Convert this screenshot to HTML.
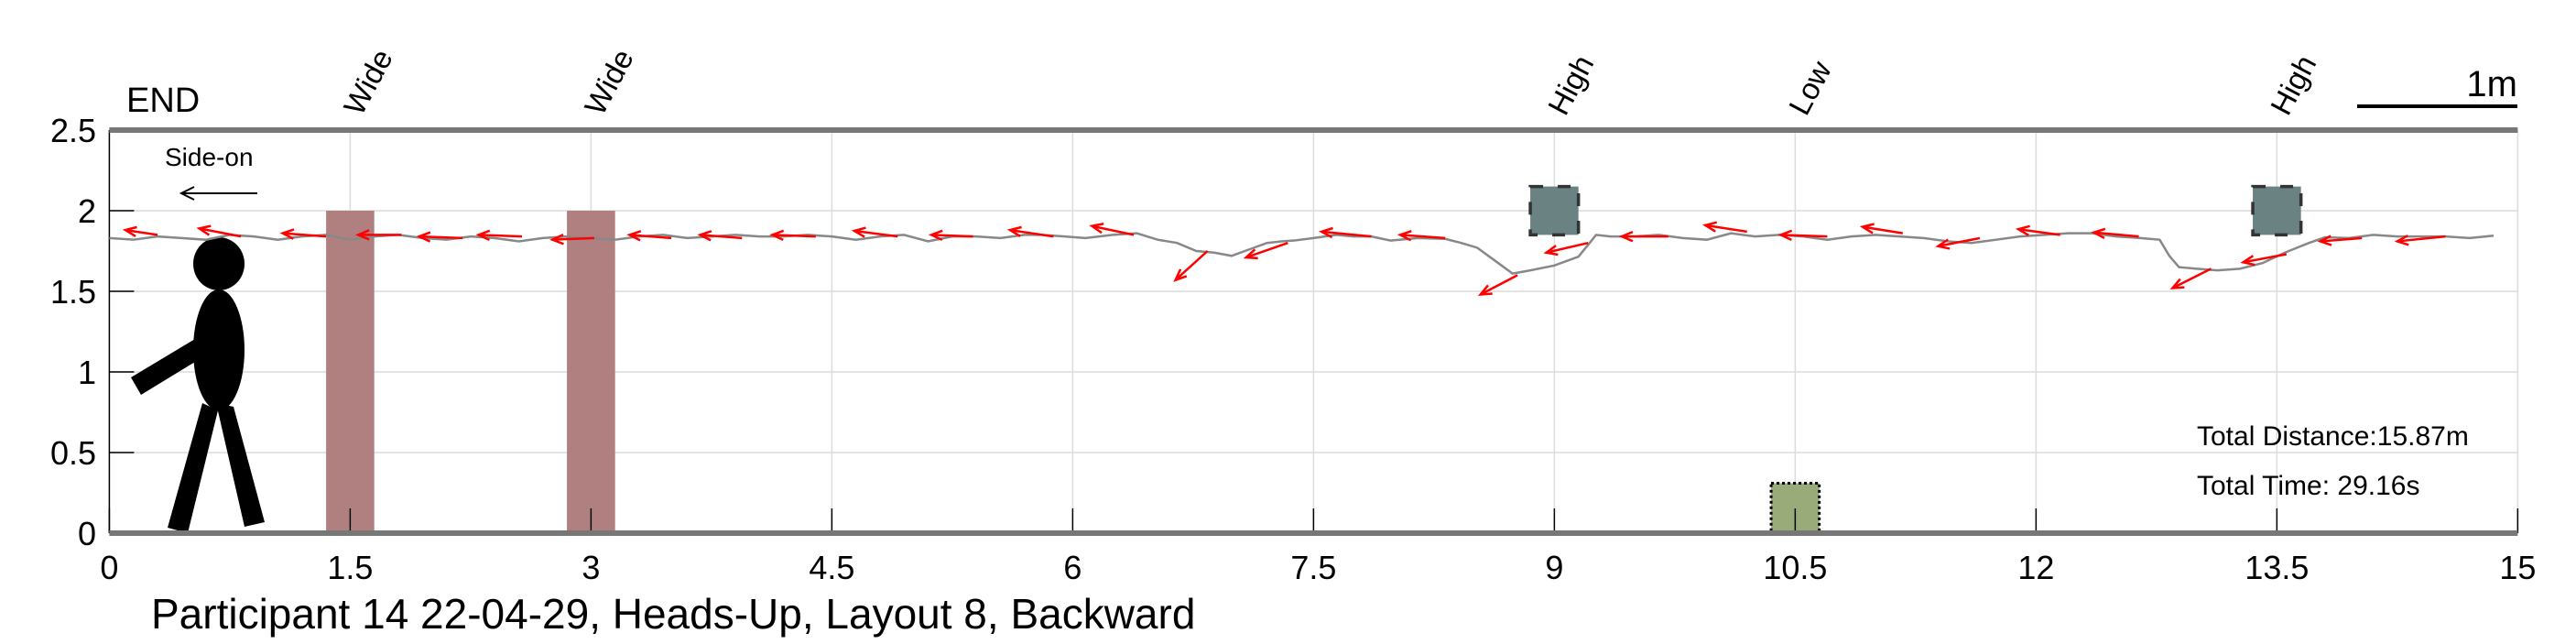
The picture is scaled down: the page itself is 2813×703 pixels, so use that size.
<!DOCTYPE html>
<html><head><meta charset="utf-8">
<style>
html,body{margin:0;padding:0;background:#fff;}
svg{display:block;}
text{font-family:"Liberation Sans Narrow","Liberation Sans",sans-serif;fill:#000;}
</style></head>
<body>
<svg id="chart" width="2813" height="703" viewBox="0 0 2813 703" xmlns="http://www.w3.org/2000/svg">
  <g id="grid"></g>
  <g id="obstacles"></g>
  <g id="person" fill="#000">
    <ellipse cx="239" cy="288" rx="28" ry="29"/>
    <ellipse cx="239" cy="382" rx="28" ry="66"/>
    <polygon points="143,412 154,431 213,395 213,370"/>
    <polygon points="221,440 238,448 205,582 183,576"/>
    <polygon points="236,440 255,444 289,570 267,575"/>
  </g>
  <g id="axes"></g>
  <g id="traj"></g>
  <g id="arrows"></g>
  <g id="labels">
    <text x="138" y="122" font-size="38">END</text>
    <text x="180" y="181" font-size="28" font-family="Liberation Sans, sans-serif">Side-on</text>
    <line x1="281" y1="211" x2="200" y2="211" stroke="#000" stroke-width="2"/>
    <polyline points="212,204 198,211 212,218" fill="none" stroke="#000" stroke-width="2"/>
    <line x1="2574" y1="116" x2="2749" y2="116" stroke="#000" stroke-width="4"/>
    <text x="2749" y="105" font-size="40" text-anchor="end">1m</text>
    <text x="2399" y="486" font-size="30">Total Distance:15.87m</text>
    <text x="2399" y="540" font-size="30">Total Time: 29.16s</text>
    <text x="165" y="686" font-size="46">Participant 14 22-04-29, Heads-Up, Layout 8, Backward</text>
  </g>
</svg>
<script>
const xTicks = [0, 1.5, 3, 4.5, 6, 7.5, 9, 10.5, 12, 13.5, 15];
const xTickLabels = ["0", "1.5", "3", "4.5", "6", "7.5", "9", "10.5", "12", "13.5", "15"];
const yTicks = [0, 0.5, 1, 1.5, 2, 2.5];
const yTickLabels = ["0", "0.5", "1", "1.5", "2", "2.5"];
const trajX = [0.0,0.15,0.3,0.45,0.6,0.75,0.9,1.05,1.2,1.35,1.5,1.65,1.8,1.95,2.1,2.25,2.4,2.55,2.7,2.85,3.0,3.15,3.3,3.45,3.6,3.75,3.9,4.05,4.2,4.35,4.5,4.65,4.8,4.95,5.1,5.25,5.4,5.55,5.7,5.81,5.95,6.08,6.25,6.4,6.53,6.65,6.77,6.88,6.99,7.1,7.21,7.3,7.38,7.5,7.64,7.75,7.86,7.98,8.15,8.32,8.42,8.52,8.63,8.74,8.85,9.0,9.15,9.22,9.26,9.35,9.5,9.65,9.8,9.95,10.1,10.25,10.4,10.55,10.7,10.85,11.0,11.15,11.3,11.45,11.6,11.75,11.9,12.05,12.2,12.35,12.5,12.65,12.77,12.83,12.89,13.0,13.13,13.27,13.41,13.55,13.7,13.8,13.95,14.1,14.25,14.4,14.55,14.7,14.85];
const trajY = [1.83,1.82,1.84,1.83,1.82,1.85,1.84,1.82,1.84,1.85,1.82,1.84,1.85,1.83,1.82,1.84,1.83,1.81,1.83,1.84,1.83,1.82,1.84,1.85,1.83,1.84,1.85,1.84,1.84,1.85,1.84,1.82,1.84,1.85,1.81,1.84,1.84,1.83,1.85,1.85,1.84,1.83,1.85,1.86,1.82,1.80,1.75,1.74,1.72,1.76,1.80,1.81,1.815,1.83,1.85,1.84,1.84,1.815,1.83,1.825,1.80,1.77,1.69,1.61,1.63,1.66,1.715,1.80,1.85,1.84,1.84,1.85,1.83,1.82,1.86,1.84,1.85,1.84,1.82,1.84,1.85,1.84,1.83,1.81,1.80,1.82,1.84,1.85,1.86,1.86,1.84,1.83,1.82,1.72,1.65,1.64,1.63,1.64,1.675,1.74,1.80,1.835,1.83,1.85,1.84,1.84,1.84,1.83,1.845];
const arrowTailX = [0.30,0.82,1.35,1.82,2.2,2.57,3.02,3.5,3.94,4.4,4.91,5.38,5.88,6.38,6.84,7.34,7.86,8.32,8.77,9.21,9.71,10.2,10.7,11.17,11.65,12.15,12.64,13.09,13.56,14.03,14.55];
const arrowTailY = [1.85,1.84,1.84,1.85,1.83,1.84,1.83,1.83,1.83,1.84,1.84,1.84,1.84,1.85,1.75,1.80,1.84,1.83,1.60,1.80,1.84,1.87,1.84,1.86,1.83,1.85,1.84,1.64,1.73,1.83,1.84];
const arrowHeadX = [0.10,0.56,1.08,1.55,1.93,2.3,2.76,3.24,3.68,4.13,4.64,5.12,5.61,6.12,6.64,7.08,7.55,8.04,8.54,8.95,9.42,9.94,10.41,10.92,11.39,11.89,12.36,12.85,13.29,13.77,14.25];
const arrowHeadY = [1.88,1.89,1.86,1.85,1.84,1.85,1.82,1.85,1.85,1.85,1.875,1.85,1.88,1.905,1.57,1.71,1.87,1.85,1.48,1.74,1.84,1.91,1.85,1.90,1.78,1.885,1.865,1.52,1.68,1.81,1.81];
const wideX = [1.5, 3.0];
const highX = [9.0, 13.5];
const lowX = [10.5];
const topLabels = ["Wide","Wide","High","Low","High"];
const topLabelX = [1.5, 3.0, 9.0, 10.5, 13.5];

const NS = "http://www.w3.org/2000/svg";
const X0 = 119.4, XS = 175.33, Y0 = 582, YS = 176;
function xp(v){ return X0 + v*XS; }
function yp(v){ return Y0 - v*YS; }
function mk(tag, attrs, parent){
  const e = document.createElementNS(NS, tag);
  for (const k in attrs) e.setAttribute(k, attrs[k]);
  parent.appendChild(e); return e;
}
const grid = document.getElementById('grid');
const axes = document.getElementById('axes');
xTicks.forEach((t,i)=>{
  const l = mk('line',{x1:xp(t),x2:xp(t),y1:yp(2.5),y2:yp(0),stroke:'#dcdcdc','stroke-width':1.5},grid);
  
  
  const tk = mk('line',{x1:xp(t),x2:xp(t),y1:yp(0)-27,y2:yp(0),stroke:'#000','stroke-width':1.5},axes);
  
  
  const tx = mk('text',{x:xp(t),y:632,'font-size':36,'text-anchor':'middle'},axes);
  tx.textContent = xTickLabels[i];
  
  
});
yTicks.forEach((t,i)=>{
  const l = mk('line',{x1:xp(0),x2:xp(15),y1:yp(t),y2:yp(t),stroke:'#dcdcdc','stroke-width':1.5},grid);
  
  
  const tk = mk('line',{x1:xp(0),x2:xp(0)+27,y1:yp(t),y2:yp(t),stroke:'#000','stroke-width':1.5},axes);
  
  
  const tx = mk('text',{x:105,y:yp(t)+13,'font-size':36,'text-anchor':'end'},axes);
  tx.textContent = yTickLabels[i];
  
  
});
const la = mk('line',{x1:xp(0),x2:xp(0),y1:yp(2.5),y2:yp(0),stroke:'#000','stroke-width':1.5},axes);


const ta = mk('line',{x1:xp(0),x2:xp(15),y1:yp(2.5),y2:yp(2.5),stroke:'#777','stroke-width':6},axes);


const ba = mk('line',{x1:xp(0),x2:xp(15),y1:yp(0),y2:yp(0),stroke:'#777','stroke-width':6},axes);



const obs = document.getElementById('obstacles');
wideX.forEach(c=>{
  const r = mk('rect',{x:xp(c-0.15),y:yp(2),width:0.3*XS,height:2*YS,fill:'#b08080'},obs);
  
  
});
highX.forEach(c=>{
  const r = mk('rect',{x:xp(c-0.15),y:yp(2.15),width:0.3*XS,height:0.3*YS,fill:'#6a8282',stroke:'#333','stroke-width':3.5,'stroke-dasharray':'14,16'},obs);
  
  
});
lowX.forEach(c=>{
  const r = mk('rect',{x:xp(c-0.15),y:yp(0.31),width:0.3*XS,height:0.31*YS,fill:'#9aab7a',stroke:'#000','stroke-width':3,'stroke-dasharray':'3,3'},obs);
  
  
});
const lab = document.getElementById('labels');
topLabels.forEach((s,i)=>{
  const x = xp(topLabelX[i])+12, y = 128;
  const t = mk('text',{x:x,y:y,'font-size':33,transform:`rotate(-62 ${x} ${y})`,'font-family':'Liberation Sans, sans-serif'},lab);
  t.textContent = s;
  
  
});

const traj = document.getElementById('traj');
const pl = mk('polyline',{points:trajX.map((x,i)=>xp(x)+','+yp(trajY[i])).join(' '),fill:'none',stroke:'#888','stroke-width':2.5},traj);



const arr = document.getElementById('arrows');
arrowTailX.forEach((tx0,i)=>{
  const x1 = xp(tx0), y1 = yp(arrowTailY[i]), x2 = xp(arrowHeadX[i]), y2 = yp(arrowHeadY[i]);
  const g = mk('g',{stroke:'#f00','stroke-width':2.5,fill:'none'},arr);
  
  
  mk('line',{x1:x1,y1:y1,x2:x2,y2:y2},g);
  const a = Math.atan2(y1-y2,x1-x2), L = 13, w = 0.4;
  const p1 = [x2+L*Math.cos(a+w), y2+L*Math.sin(a+w)], p2 = [x2+L*Math.cos(a-w), y2+L*Math.sin(a-w)];
  mk('polyline',{points:`${p1[0]},${p1[1]} ${x2},${y2} ${p2[0]},${p2[1]}`},g);
});
</script>
</body></html>
